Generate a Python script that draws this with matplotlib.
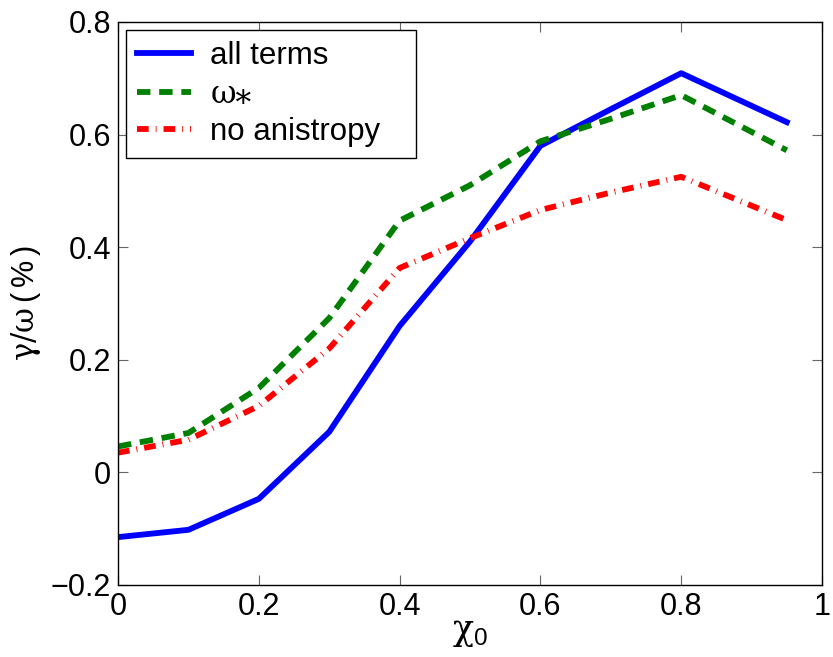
import matplotlib.pyplot as plt

plt.rcParams["font.family"] = ["Liberation Sans", "DejaVu Sans"]
plt.rcParams["mathtext.fontset"] = "custom"
plt.rcParams["mathtext.rm"] = "DejaVu Serif"
plt.rcParams["mathtext.sf"] = "Liberation Sans"
plt.rcParams["mathtext.it"] = "DejaVu Serif:italic"

chi0 = [0.0, 0.1, 0.2, 0.3, 0.4, 0.5, 0.6, 0.7, 0.8, 0.95]
all_terms = [-0.115, -0.102, -0.047, 0.072, 0.26, 0.41, 0.58, 0.645, 0.709, 0.622]
omega_star = [0.046, 0.07, 0.15, 0.274, 0.447, 0.51, 0.588, 0.628, 0.670, 0.572]
no_aniso = [0.035, 0.058, 0.118, 0.22, 0.363, 0.416, 0.466, 0.497, 0.525, 0.448]

fig = plt.figure(figsize=(8.33, 6.57), dpi=100)
ax = fig.add_axes([0.1417, 0.1096, 0.8451, 0.857])

ax.plot(chi0, all_terms, color="blue", lw=4.2, label="all terms")
ax.plot(chi0, omega_star, color="green", lw=4.2, dashes=(2.3, 1.5),
        label="\u03c9\u204e")
ax.plot(chi0, no_aniso, color="red", lw=4.2, dashes=(2.0, 1.2, 0.15, 1.2),
        label="no anistropy")

ax.set_xlim(0, 1)
ax.set_ylim(-0.2, 0.8)
ax.set_xticks([0, 0.2, 0.4, 0.6, 0.8, 1])
ax.set_xticklabels(["0", "0.2", "0.4", "0.6", "0.8", "1"])
ax.set_yticks([-0.2, 0, 0.2, 0.4, 0.6, 0.8])
ax.set_yticklabels(["\u22120.2", "0", "0.2", "0.4", "0.6", "0.8"])
ax.tick_params(direction="in", length=7, width=0.8, top=True, right=True,
               labelsize=22, color="0.4", pad=5)
for s in ax.spines.values():
    s.set_linewidth(1.0)

ax.set_xlabel(r"$\mathrm{\chi}_{\mathsf{0}}$", fontsize=25, labelpad=-4)
ax.set_ylabel(r"$\mathrm{\gamma/\omega}\,\mathsf{(\,\%\,)}$", fontsize=22, labelpad=6)

leg = ax.legend(loc="upper left", bbox_to_anchor=(0.011, 0.5, 0.412, 0.486),
                mode="expand", fontsize=22.5,
                frameon=True, fancybox=False, edgecolor="black", framealpha=1,
                handlelength=1.75, borderpad=0.35, labelspacing=0.25,
                handletextpad=0.6, borderaxespad=0)
leg.get_frame().set_linewidth(1.0)
leg.get_texts()[1].set_fontfamily(["DejaVu Serif", "DejaVu Sans"])

fig.savefig("out.png", dpi=100)
